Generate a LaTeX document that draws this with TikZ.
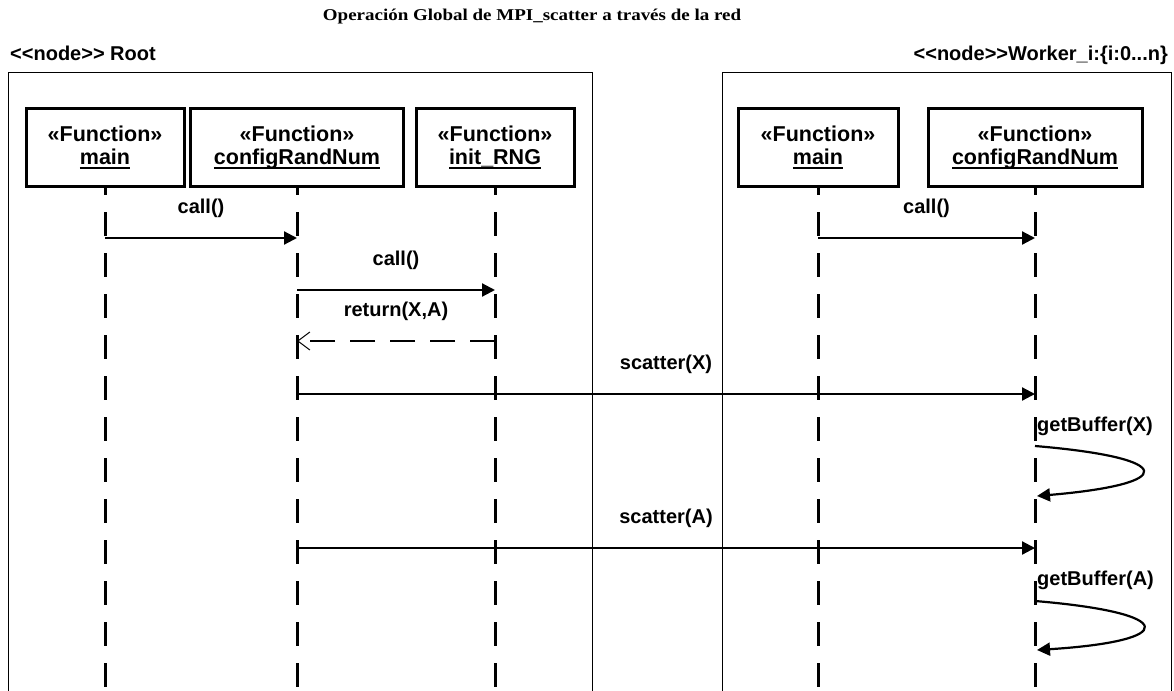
\documentclass[tikz,border=0pt]{standalone}
\usepackage{fontspec}
\setmainfont{Liberation Sans}
\newfontfamily\titlefont{Liberation Serif}
\usepackage{graphicx}
\usetikzlibrary{arrows.meta}
% underlined object name, rule placed just under the baseline
\newcommand\objname[1]{\setbox0\hbox{#1}\rlap{\rule[-4pt]{\wd0}{1.6pt}}\box0}
\tikzset{
  frame/.style={draw, line width=1.2pt, anchor=north west, inner sep=0pt},
  framelabel/.style={inner sep=0pt, font=\bfseries\fontsize{20}{22}\selectfont},
  obj/.style={draw, line width=3pt, minimum height=78pt, inner sep=0pt, align=center,
              font=\bfseries\fontsize{21.5}{23}\selectfont},
  lifeline/.style={line width=3pt, dash pattern=on 24pt off 17pt, dash phase=17pt},
  msg/.style={line width=2.2pt, -{Triangle[length=13pt,width=13pt]}},
  ret/.style={line width=2.4pt, dash pattern=on 25pt off 15pt,
              -{Straight Barb[length=12pt,width=18pt,line width=1pt]}},
  lab/.style={inner sep=0pt, font=\bfseries\fontsize{20}{22}\selectfont},
}
\begin{document}
\begin{tikzpicture}[x=1pt,y=-1pt]
\useasboundingbox (0,0) rectangle (1174,690);
\clip (0,0) rectangle (1174,690);

% title
\node[anchor=base, inner sep=0pt] (title) at (532,21)
  {\titlefont\bfseries\fontsize{16.5}{18}\selectfont\scalebox{1.15}[1]{Operación Global de MPI\_scatter a través de la red}};

% deployment nodes
\node[frame, minimum width=584pt, minimum height=660pt] (root) at (8,72) {};
\node[frame, minimum width=449pt, minimum height=660pt] (worker) at (722,72) {};
\node[framelabel, anchor=base west] (rootlab) at (10,61) {<{}<node>{}> Root};
\node[framelabel, anchor=base east] (workerlab) at (1168,61) {<{}<node>{}>Worker\_i:\{i:0...n\}};

% objects
\node[obj, minimum width=158pt] (mainR) at (105,147.5) {«Function»\\\objname{main}};
\node[obj, minimum width=213pt] (cfgR)  at (297,147.5) {«Function»\\\objname{configRandNum}};
\node[obj, minimum width=158pt] (rngR)  at (495,147.5) {«Function»\\\objname{init\_RNG}};
\node[obj, minimum width=160pt] (mainW) at (818,147.5) {«Function»\\\objname{main}};
\node[obj, minimum width=214pt] (cfgW)  at (1035,147.5) {«Function»\\\objname{configRandNum}};

% lifelines
\foreach \o in {mainR,cfgR,rngR,mainW,cfgW}
  \draw[lifeline] (\o.south) -- (\o.south |- 0,700);

% messages on the root side
\draw[msg] (mainR |- 0,238) -- node[lab, midway, above=19pt] {call()} (cfgR |- 0,238);
\draw[msg] (cfgR |- 0,290) -- node[lab, midway, above=19pt] {call()} (rngR |- 0,290);
\draw[ret] (rngR |- 0,341) -- node[lab, midway, above=19pt] {return(X,A)} (cfgR |- 0,341);

% messages on the worker side
\draw[msg] (mainW |- 0,238) -- node[lab, midway, above=19pt] {call()} (cfgW |- 0,238);

% scatter across the network
\draw[msg] (cfgR |- 0,394) -- node[lab, midway, above=19pt] {scatter(X)} (cfgW |- 0,394);
\draw[msg] (cfgR |- 0,548) -- node[lab, midway, above=19pt] {scatter(A)} (cfgW |- 0,548);

% self calls on the worker
\coordinate (bx1) at (cfgW |- 0,446);
\coordinate (bx2) at (1037,496);
\draw[msg] (bx1) .. controls (1178,458) and (1178,484) .. (bx2);
\node[lab, anchor=south west] (gbx) at ([xshift=2pt,yshift=10pt]bx1) {getBuffer(X)};

\coordinate (ba1) at (cfgW |- 0,601);
\coordinate (ba2) at (1037,650);
\draw[msg] (ba1) .. controls (1179,613) and (1179,641) .. (ba2);
\node[lab, anchor=south west] (gba) at ([xshift=2pt,yshift=11pt]ba1) {getBuffer(A)};
\end{tikzpicture}
\end{document}
